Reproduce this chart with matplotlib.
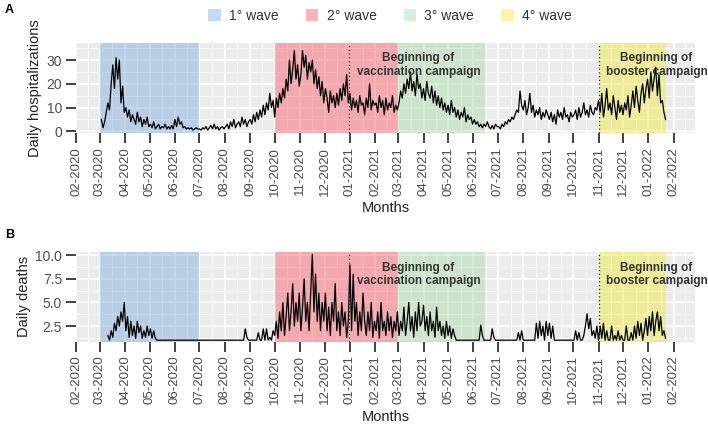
import numpy as np
import pandas as pd
import matplotlib
matplotlib.use('Agg')
import matplotlib.pyplot as plt
import matplotlib.dates as mdates
from matplotlib.patches import Patch

plt.rcParams['font.family'] = ['Liberation Sans', 'DejaVu Sans']

# ---------------- data (values every 2 days) ----------------
hosp_start = '2020-03-03'
hosp_values = [
    5, 1.5, 4, 8, 12, 9, 20, 28, 18, 31, 22, 30, 12, 19, 8,            # Mar 2020
    10, 6, 9, 4, 7, 5, 3, 8, 4, 6, 2, 5, 3, 6, 2,                      # Apr
    3, 1.5, 4, 1, 2, 3, 1, 2, 1.5, 3, 1, 2, 1, 2.5, 1,                 # May
    5, 2, 6, 3, 4, 1.5, 2, 1, 1.5, 1, 1.5, 0.5, 1, 1.5, 1,             # Jun
    1, 0.5, 1.5, 1, 2, 0.5, 1.5, 2.5, 1, 3, 1, 2, 0.5, 1.5, 2, 1,      # Jul
    2, 3, 1, 4, 2, 5, 1.5, 3, 4, 2, 6, 3, 5, 2, 4,                     # Aug
    5, 3, 7, 4, 8, 5, 9, 6, 11, 7, 12, 9, 16, 10, 13,                  # Sep
    6, 14, 10, 16, 12, 18, 14, 22, 17, 30, 20, 26, 34, 22, 28, 19,     # Oct
    24, 34, 27, 32, 22, 29, 25, 30, 20, 26, 18, 23, 15, 21, 12,        # Nov
    18, 14, 8, 17, 12, 15, 10, 16, 11, 18, 13, 20, 15, 24, 12,         # Dec
    16, 9, 14, 10, 13, 8, 15, 11, 12, 7, 14, 10, 20, 9, 13, 11,        # Jan 2021
    12, 8, 15, 10, 13, 7, 14, 9, 12, 10, 15, 8, 11, 9,                 # Feb
    12, 17, 14, 20, 16, 22, 18, 25, 17, 21, 15, 24, 18, 20, 14,        # Mar
    18, 13, 21, 16, 14, 19, 12, 17, 11, 15, 10, 14, 9, 12, 8,          # Apr
    11, 7, 13, 8, 10, 6, 9, 5, 8, 6, 10, 4, 7, 5, 6, 3,                # May
    5, 3, 4, 2, 3, 1.5, 3, 2, 4, 2, 1, 2.5, 1, 3, 2,                   # Jun
    2, 1, 3, 2, 4, 3, 5, 4, 6, 5, 7, 9, 8, 17, 11,                     # Jul
    9, 13, 7, 10, 16, 8, 11, 6, 9, 7, 10, 5, 8, 6, 9, 7,               # Aug
    5, 8, 4, 7, 3, 9, 6, 8, 5, 10, 6, 7, 4, 8, 6,                      # Sep
    7, 9, 5, 10, 6, 8, 12, 7, 9, 6, 11, 8, 7, 10, 9,                   # Oct
    13, 8, 16, 6, 11, 18, 9, 12, 7, 15, 10, 5, 13, 8, 11,              # Nov
    7, 12, 9, 15, 6, 11, 17, 10, 19, 13, 8, 16, 20, 12, 18, 22,        # Dec
    14, 25, 17, 22, 27, 15, 24, 12, 13, 8, 5,                          # Jan 2022
]

death_start = '2020-03-11'
death_values = [
    1.5, 1, 2, 1.3, 2.8, 2, 3.5, 2.5, 4, 3, 5,                          # Mar 2020
    2, 3.5, 1.3, 3, 1.5, 2.5, 1.2, 3, 1.8, 2.5, 1.2, 2, 1.3, 2.5, 1.5,  # Apr
    2.2, 1.2, 2, 1.2, 1, 1, 1, 1, 1, 1, 1, 1, 1, 1, 1,                  # May
    1, 1, 1, 1, 1, 1, 1, 1, 1, 1, 1, 1, 1, 1, 1,                        # Jun
    1, 1, 1, 1, 1, 1, 1, 1, 1, 1, 1, 1, 1, 1, 1, 1,                     # Jul
    1, 1, 1, 1, 1, 1, 1, 1, 1, 1, 1, 1, 2.2, 1.3, 1,                    # Aug
    1, 1, 1, 1, 1, 1.8, 1, 1, 2.2, 1, 2.2, 1, 1.3, 1, 2,                # Sep
    1.5, 3, 1.2, 4, 2, 5, 1.5, 3.5, 6, 2, 4, 7, 2.5, 5, 3, 6,           # Oct
    2, 4.5, 7.5, 3, 5, 2, 6, 10.1, 4, 8, 3, 6, 2, 5, 3,                 # Nov
    6, 2, 4.5, 1.5, 5, 3, 7, 2, 4, 1.5, 5, 2.5, 4, 1.3, 3,              # Dec
    9, 2, 8, 3, 5, 1.5, 4, 2, 6, 3, 1.5, 4, 2, 5, 1.3, 3,               # Jan 2021
    2, 4, 1.2, 5, 2, 3, 1.5, 4, 2, 3.5, 1.3, 3, 2, 4,                   # Feb
    1.5, 3, 2, 4.5, 1.5, 3, 5, 2, 3.5, 1.3, 4, 2, 5, 2.5, 3,            # Mar
    4.7, 2, 3.5, 1.5, 4, 2, 3, 1.3, 4.5, 2, 3, 1.5, 2.5, 1.2, 3,        # Apr
    1.5, 2.5, 1.2, 2.2, 1.5, 1, 1, 1, 1, 1, 1, 1, 1, 1, 1, 1,           # May
    1, 1, 1, 1, 2.6, 1.5, 1, 1, 1, 1, 1, 2.2, 1.3, 1, 1,                # Jun
    1, 1, 1, 1, 1, 1, 1, 1, 1, 1, 1, 1, 1.8, 1, 2,                      # Jul
    1, 1, 1, 1, 1, 1, 1, 1, 2.8, 1.2, 3, 1.5, 2.5, 1, 3, 1.5,           # Aug
    2.8, 1.2, 2.5, 1, 1, 1, 1, 1, 1, 1, 1, 1, 1, 1, 1,                  # Sep
    1, 2, 1, 1.8, 1, 1, 1.5, 2.5, 3.8, 2.2, 3.3, 1.5, 2, 1.2, 2.5,      # Oct
    1, 2.5, 1.2, 2.8, 1, 2, 1, 1, 2.5, 1, 1.5, 1, 2, 1, 1.5,            # Nov
    1, 1, 2.5, 1, 1, 1.8, 1, 2.5, 1.2, 3, 1.5, 2.8, 1, 2, 3.3, 1.5,     # Dec
    3.5, 2, 4, 1.5, 3, 4, 2, 3.5, 1.5, 2, 1.2,                          # Jan 2022
]

wave_labels = ['1° wave', '2° wave', '3° wave', '4° wave']
wave_starts = ['2020-03-01', '2020-10-01', '2021-03-01', '2021-11-01']
wave_ends = ['2020-07-01', '2021-03-01', '2021-06-15', '2022-01-22']
wave_colors = ['#6ea0da', '#fc4855', '#a0d9a0', '#f2ed23']

vacc_date = '2020-12-31'
booster_date = '2021-11-01'
vacc_text_date = '2021-03-26'
booster_text_date = '2022-01-11'

hosp_dates = pd.date_range(hosp_start, periods=len(hosp_values), freq='2D')
death_dates = pd.date_range(death_start, periods=len(death_values), freq='2D')

# ---------------- figure ----------------
W, H = 708, 429
fig = plt.figure(figsize=(W / 100, H / 100), dpi=100)

def px_axes(l, t, r, b):
    return fig.add_axes([l / W, 1 - b / H, (r - l) / W, (b - t) / H])

ax1 = px_axes(76, 43, 695, 133)
ax2 = px_axes(76, 252, 695, 341.5)

xmin = pd.Timestamp('2020-02-01')
xmax = pd.Timestamp('2022-02-27')
month_starts = pd.date_range('2020-02-01', '2022-03-01', freq='MS')
mids = [month_starts[i] + (month_starts[i + 1] - month_starts[i]) / 2
        for i in range(len(month_starts) - 1)]

def style(ax, ymaj, ymin, ylim, ylabel, yfmt):
    ax.set_facecolor('#EBEBEB')
    for s in ax.spines.values():
        s.set_visible(False)
    ax.set_xlim(xmin, xmax)
    ax.set_ylim(*ylim)
    ax.set_axisbelow(True)
    for m in mids:
        ax.axvline(m, color='white', lw=0.6, zorder=0.5)
    for m in month_starts:
        ax.axvline(m, color='white', lw=1.2, zorder=0.5)
    for y in ymin:
        ax.axhline(y, color='white', lw=0.6, zorder=0.5)
    for y in ymaj:
        ax.axhline(y, color='white', lw=1.2, zorder=0.5)
    ax.set_yticks(ymaj)
    ax.set_yticklabels([yfmt(v) for v in ymaj])
    ax.xaxis.set_major_locator(mdates.MonthLocator())
    ax.xaxis.set_major_formatter(mdates.DateFormatter('%m-%Y'))
    ax.tick_params(axis='x', rotation=90, labelsize=9.5, length=7, width=1.3,
                   color='#333333', labelcolor='#4d4d4d', pad=3)
    ax.tick_params(axis='y', labelsize=10, length=7, width=1.3,
                   color='#333333', labelcolor='#4d4d4d', pad=3)
    ax.set_xlabel('Months', fontsize=10.5, color='#222222', labelpad=4)
    ax.set_ylabel(ylabel, fontsize=10.5, color='#222222', labelpad=3)
    for s, e, c in zip(wave_starts, wave_ends, wave_colors):
        ax.axvspan(pd.Timestamp(s), pd.Timestamp(e), color=c, alpha=0.4, lw=0, zorder=1)
    for d in (vacc_date, booster_date):
        ax.axvline(pd.Timestamp(d), color='#222222', lw=0.9, ls=(0, (1, 2)), zorder=3)

style(ax1, [0, 10, 20, 30], [5, 15, 25, 35], (-0.7, 37.2),
      'Daily hospitalizations', lambda v: f'{v:d}')
style(ax2, [2.5, 5.0, 7.5, 10.0], [1.25, 3.75, 6.25, 8.75], (0.86, 10.35),
      'Daily deaths', lambda v: f'{v:.1f}')

ax1.plot(hosp_dates, hosp_values, color='black', lw=0.9, zorder=2)
ax2.plot(death_dates, death_values, color='black', lw=0.9, zorder=2)

for ax, yf in ((ax1, 0.755), (ax2, 0.748)):
    ax.text(pd.Timestamp(vacc_text_date), yf, 'Beginning of\nvaccination campaign',
            transform=ax.get_xaxis_transform(), ha='center', va='center',
            fontsize=8.5, fontweight='bold', color='#333333', linespacing=1.15,
            zorder=4, clip_on=False)
    ax.text(pd.Timestamp(booster_text_date), yf, 'Beginning of\nbooster campaign',
            transform=ax.get_xaxis_transform(), ha='center', va='center',
            fontsize=8.5, fontweight='bold', color='#333333', linespacing=1.15,
            zorder=4, clip_on=False)

# legend
handles = [Patch(facecolor=c, alpha=0.4, edgecolor='none') for c in wave_colors]
fig.legend(handles, wave_labels, loc='center', bbox_to_anchor=(390 / W, 1 - 16 / H),
           ncol=4, frameon=False, fontsize=10, handlelength=0.9, handleheight=0.9,
           handletextpad=0.6, columnspacing=1.95, labelcolor='#333333')

fig.text(5 / W, 1 - 10 / H, 'A', fontsize=9, fontweight='bold', va='center')
fig.text(5 / W, 1 - 235 / H, 'B', fontsize=9, fontweight='bold', va='center')

fig.savefig('out.png', dpi=100)
